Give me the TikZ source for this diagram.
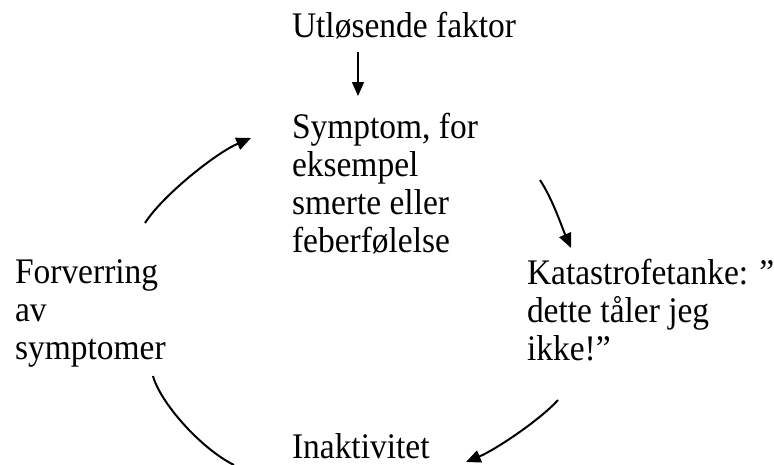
\documentclass[tikz,border=0pt]{standalone}
\usepackage{fontspec}
\setmainfont[FakeStretch=0.93]{Liberation Serif}
\usetikzlibrary{arrows.meta}
\begin{document}
\begin{tikzpicture}[x=0.75pt,y=-0.75pt,
  lbl/.style={inner sep=0pt,outer sep=0pt,anchor=base west,align=left,
    font=\fontsize{27}{28.5}\selectfont},
  conn/.style={line width=1.5pt,-{Triangle[length=11pt,width=9.5pt]}},
  plain/.style={line width=1.5pt}]
\useasboundingbox (0,0) rectangle (774,464);
\node[lbl] (trig) at (292,37) {Utløsende faktor};
\node[lbl] (symp) at (292,252) {Symptom, for\\eksempel\\smerte eller\\feberfølelse};
\node[lbl] (kat) at (527,360) {Katastrofetanke: ”\\dette tåler jeg\\ikke!”};
\node[lbl] (forv) at (15,359) {Forverring\\av\\symptomer};
\node[lbl] (inak) at (292,458) {Inaktivitet};
\coordinate (d1) at (358,52);
\coordinate (d2) at (358,96);
\coordinate (tl1) at (145,223);
\coordinate (tl2) at (251,138);
\coordinate (tr1) at (540,180);
\coordinate (tr2) at (571,248);
\coordinate (br1) at (558,400);
\coordinate (br2) at (466,462);
\coordinate (bl1) at (153,376);
\coordinate (bl2) at (234,465);
\draw[line width=1pt,-{Triangle[length=10.5pt,width=9pt]}] (d1) -- (d2);
\draw[conn] (tl1) .. controls (163,195) and (216,153) .. (tl2);
\draw[conn] (tr1) .. controls (553,200) and (561,225) .. (tr2);
\draw[conn] (br1) .. controls (540,420) and (495,450) .. (br2);
\draw[plain] (bl1) .. controls (160,402) and (200,448) .. (bl2);
\end{tikzpicture}
\end{document}
